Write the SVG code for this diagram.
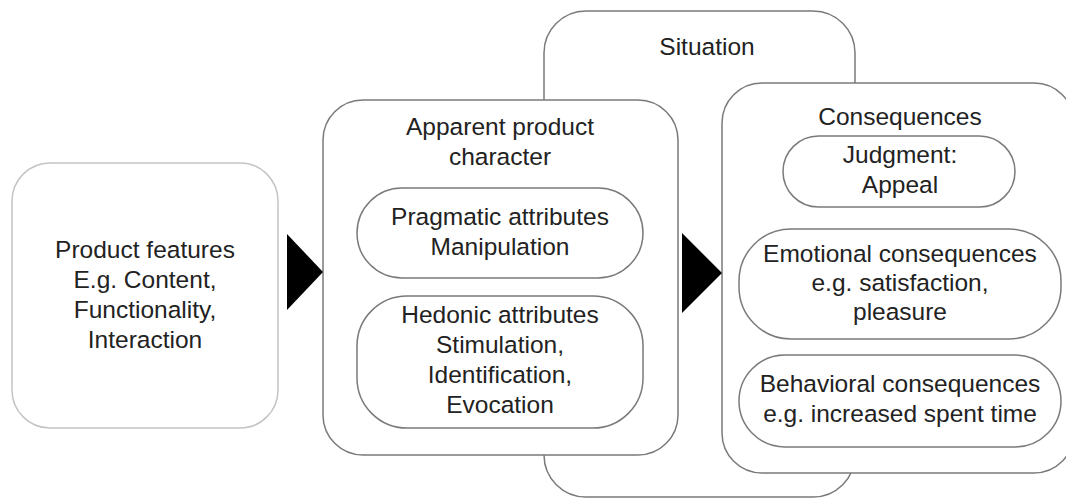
<svg xmlns="http://www.w3.org/2000/svg" width="1066" height="498" viewBox="0 0 1066 498">
<style>
.box{fill:#fff;stroke:#7a7a7a;stroke-width:1.5}
.light{fill:#fff;stroke:#c4c4c4;stroke-width:1.5}
text{font-family:"Liberation Sans",Arial,sans-serif;font-size:24.5px;fill:#222;text-anchor:middle}
.arrow{fill:#000}
</style>
<rect width="1066" height="498" fill="#fff"/>
<g id="situation">
<rect class="box" x="544" y="11" width="311" height="486" rx="42"/>
<text x="707" y="55">Situation</text>
</g>
<g id="product-features">
<rect class="light" x="12" y="163" width="266" height="265" rx="38"/>
<text x="145" y="258">Product features</text>
<text x="145" y="288">E.g. Content,</text>
<text x="145" y="318">Functionality,</text>
<text x="145" y="348">Interaction</text>
</g>
<g id="apparent-character">
<rect class="box" x="323" y="100" width="355" height="355" rx="40"/>
<text x="500" y="135">Apparent product</text>
<text x="500" y="165">character</text>
</g>
<g id="pragmatic">
<rect class="box" x="357" y="188" width="286" height="90" rx="45"/>
<text x="500" y="225">Pragmatic attributes</text>
<text x="500" y="255">Manipulation</text>
</g>
<g id="hedonic">
<rect class="box" x="357" y="296" width="286" height="132" rx="50"/>
<text x="500" y="323">Hedonic attributes</text>
<text x="500" y="353">Stimulation,</text>
<text x="500" y="383">Identification,</text>
<text x="500" y="413">Evocation</text>
</g>
<g id="consequences">
<rect class="box" x="722" y="83" width="352" height="390" rx="40"/>
<text x="900" y="125">Consequences</text>
</g>
<g id="judgment">
<rect class="box" x="783" y="136" width="232" height="71" rx="35.5"/>
<text x="900" y="163">Judgment:</text>
<text x="900" y="193">Appeal</text>
</g>
<g id="emotional">
<rect class="box" x="739" y="229" width="322" height="110" rx="52"/>
<text x="900" y="262">Emotional consequences</text>
<text x="900" y="291">e.g. satisfaction,</text>
<text x="900" y="320">pleasure</text>
</g>
<g id="behavioral">
<rect class="box" x="739" y="355" width="322" height="92" rx="46"/>
<text x="900" y="392">Behavioral consequences</text>
<text x="900" y="422">e.g. increased spent time</text>
</g>
<g id="connectors">
<polygon class="arrow" points="287,234 323,272 287,310"/>
<polygon class="arrow" points="682,233 722,273 682,313"/>
</g>
</svg>
